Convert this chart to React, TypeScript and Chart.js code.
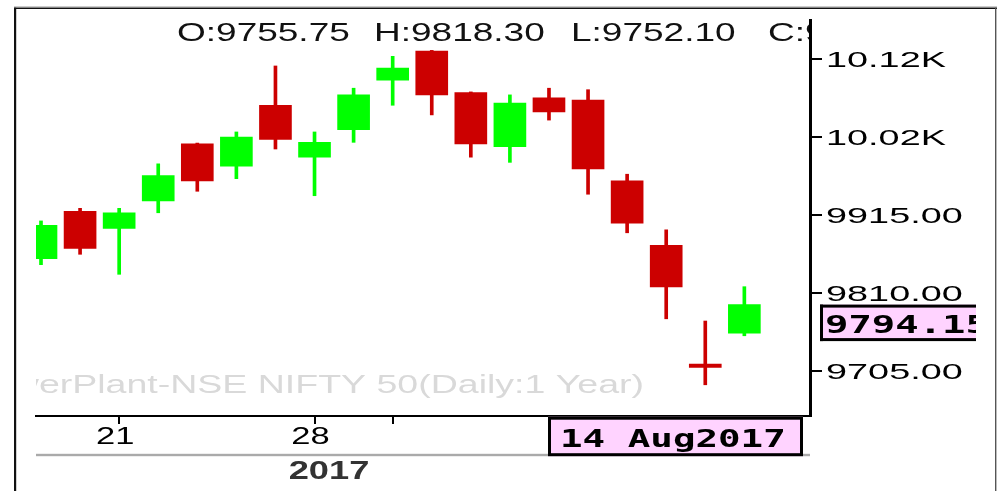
import React, { useEffect, useRef } from 'react';
import { Chart, registerables } from 'chart.js';

Chart.register(...registerables);

// ---- data (NSE NIFTY 50, daily) ----
const dates = ['19 Jul', '20 Jul', '21 Jul', '24 Jul', '25 Jul', '26 Jul', '27 Jul', '28 Jul', '31 Jul', '1 Aug',
  '2 Aug', '3 Aug', '4 Aug', '7 Aug', '8 Aug', '9 Aug', '10 Aug', '11 Aug', '14 Aug'];
const opens = [9856, 9920, 9897, 9934, 10011, 9981, 10063, 9993, 10030, 10097,
  10136, 10080, 10007, 10073, 10070, 9961, 9874, 9714, 9755.75];
const highs = [9907, 9924, 9924, 9984, 10012, 10027, 10116, 10027, 10086, 10129,
  10137, 10081, 10077, 10086, 10084, 9970, 9895, 9772, 9818.3];
const lows = [9848, 9862, 9835, 9918, 9947, 9964, 10004, 9941, 10013, 10063,
  10050, 9993, 9986, 10043, 9943, 9891, 9775, 9686, 9752.1];
const closes = [9901, 9870, 9918, 9968, 9961, 10020, 10017, 10013, 10077, 10113,
  10077, 10011, 10066, 10054, 9977, 9904, 9818, 9709.5, 9794.15];

const yTickValues = [9705, 9810, 9915, 10020, 10125];
const yTickLabels = ['9705.00', '9810.00', '9915.00', '10.02K', '10.12K'];
const xTickIndex = [2, 7, 9];
const xTickLabels = ['21', '28', ''];
const yearLabel = '2017';
const watermark = 'PowerPlant-NSE NIFTY 50(Daily:1 Year)';
const lastDateLabel = '14 Aug2017';
const ohlcNames = ['O', 'H', 'L', 'C'];

const GREEN = '#00FF00';
const RED = '#CC0000';
const PINK = '#FFD3FF';
const SANS = '"Liberation Sans", Arial, sans-serif';
const MONO = '"DejaVu Sans Mono", "Liberation Mono", monospace';

function stretchText(
  ctx: CanvasRenderingContext2D, text: string, x: number, y: number, size: number, sx: number,
  color: string, align: 'left' | 'center' | 'right' = 'left', weight = 'normal', family = SANS
) {
  ctx.save();
  ctx.font = `${weight} ${size}px ${family}`;
  ctx.fillStyle = color;
  ctx.textBaseline = 'alphabetic';
  ctx.textAlign = 'left';
  const w = ctx.measureText(text).width * sx;
  const x0 = align === 'left' ? x : align === 'center' ? x - w / 2 : x - w;
  ctx.translate(x0, y);
  ctx.scale(sx, 1);
  ctx.fillText(text, 0, 0);
  ctx.restore();
}

const decorPlugin = {
  id: 'decor',
  beforeDatasetsDraw(chart: any) {
    const { ctx, chartArea } = chart;
    ctx.save();
    ctx.beginPath();
    ctx.rect(chartArea.left, chartArea.top, chartArea.right - chartArea.left, chartArea.bottom - chartArea.top);
    ctx.clip();
    stretchText(ctx, watermark, 644, 393, 25, 1.5, '#d9d9d9', 'right');
    ctx.restore();
  },
  afterDraw(chart: any) {
    const { ctx, chartArea } = chart;
    const ys = chart.scales.y;
    const xs = chart.scales.x;
    const n = closes.length - 1;

    // outer frame
    ctx.save();
    ctx.fillStyle = '#9a9a9a';
    ctx.fillRect(14, 6.5, 983, 1.2);
    ctx.fillStyle = '#111';
    ctx.fillRect(14, 7.7, 983, 1.3);
    ctx.fillRect(14, 7.7, 2.2, 484);
    ctx.fillStyle = '#555';
    ctx.fillRect(995, 7.7, 1.4, 484);
    ctx.restore();

    // OHLC header (clipped to plot area)
    ctx.save();
    ctx.beginPath();
    ctx.rect(chartArea.left, 0, chartArea.right - chartArea.left - 1, chartArea.bottom);
    ctx.clip();
    const vals = [opens[n], highs[n], lows[n], closes[n]];
    vals.forEach((v, i) => {
      stretchText(ctx, `${ohlcNames[i]}:${v.toFixed(2)}`, 177 + i * 197, 41, 25, 1.48, '#111');
    });
    ctx.restore();

    // y tick labels
    ys.ticks.forEach((t: any) => {
      const idx = yTickValues.indexOf(t.value);
      if (idx < 0) return;
      const py = ys.getPixelForValue(t.value);
      stretchText(ctx, yTickLabels[idx], 826, py + 8, 22, 1.72, '#000');
    });

    // x tick labels
    xs.ticks.forEach((t: any) => {
      const idx = xTickIndex.indexOf(t.value);
      if (idx < 0 || !xTickLabels[idx]) return;
      const px = xs.getPixelForValue(t.value);
      stretchText(ctx, xTickLabels[idx], px - 4, 443.5, 23, 1.5, '#000', 'center');
    });

    // grey separator + year
    ctx.fillStyle = '#aaaaaa';
    ctx.fillRect(chartArea.left, 453.8, chartArea.right - chartArea.left, 2.4);
    stretchText(ctx, yearLabel, 329, 478.5, 25, 1.45, '#333', 'center', 'bold');

    // date label box
    ctx.save();
    ctx.fillStyle = PINK;
    ctx.fillRect(548, 416.7, 255, 39.5);
    ctx.strokeStyle = '#000';
    ctx.lineWidth = 3;
    ctx.strokeRect(549.5, 418.2, 252, 36.5);
    ctx.restore();
    stretchText(ctx, lastDateLabel, 560, 446.5, 25, 1.5, '#000', 'left', 'bold', MONO);

    // last price box
    const top = ys.getPixelForValue(closes[n]);
    ctx.save();
    ctx.beginPath();
    ctx.rect(0, 0, 976, 491);
    ctx.clip();
    ctx.fillStyle = PINK;
    ctx.fillRect(820, top, 170, 36);
    ctx.fillStyle = '#000';
    ctx.fillRect(820, top, 170, 3);
    ctx.fillRect(820, top + 33.5, 170, 3);
    ctx.fillRect(820, top, 3, 36.5);
    stretchText(ctx, closes[n].toFixed(2), 825, top + 28, 24, 1.62, '#000', 'left', 'bold', MONO);
    ctx.restore();
  },
};

export default function App() {
  const ref = useRef<HTMLCanvasElement>(null);

  useEffect(() => {
    if (!ref.current) return;
    const colors = closes.map((c, i) => (c >= opens[i] ? GREEN : RED));
    const chart = new Chart(ref.current, {
      type: 'bar',
      data: {
        datasets: [
          {
            label: 'body',
            data: dates.map((_, i) => ({ x: i, y: [opens[i], closes[i]] })) as any,
            backgroundColor: colors,
            borderWidth: 0,
            barThickness: 32,
            grouped: false,
            clip: 0,
            minBarLength: 3,
          } as any,
          {
            label: 'wick',
            data: dates.map((_, i) => ({ x: i, y: [lows[i], highs[i]] })) as any,
            backgroundColor: colors,
            borderWidth: 0,
            barThickness: 3,
            grouped: false,
            clip: 0,
          } as any,
        ],
      },
      options: {
        animation: false,
        responsive: false,
        devicePixelRatio: 1,
        events: [],
        layout: { padding: { left: 36, top: 20, right: 0, bottom: 0 } },
        plugins: { legend: { display: false }, tooltip: { enabled: false }, title: { display: false } },
        scales: {
          x: {
            type: 'linear',
            position: 'bottom',
            min: -0.128,
            max: 19.68,
            offset: false,
            afterBuildTicks: (s: any) => { s.ticks = xTickIndex.map((v) => ({ value: v })); },
            afterFit: (s: any) => { s.height = 75; },
            ticks: { display: false },
            grid: { offset: false, drawOnChartArea: false, drawTicks: true, tickLength: 8, color: '#000', lineWidth: 2 },
            border: { display: true, color: '#000', width: 2 },
          },
          y: {
            type: 'linear',
            position: 'right',
            min: 9643.9,
            max: 10178,
            afterBuildTicks: (s: any) => { s.ticks = yTickValues.map((v) => ({ value: v })); },
            afterFit: (s: any) => { s.width = 189; },
            ticks: { display: false },
            grid: { offset: false, drawOnChartArea: false, drawTicks: true, tickLength: 12, color: '#000', lineWidth: 2 },
            border: { display: true, color: '#000', width: 3 },
          },
        },
      } as any,
      plugins: [decorPlugin],
    });
    return () => chart.destroy();
  }, []);

  return (
    <div style={{ position: 'fixed', left: 0, top: 0, width: 999, height: 491, background: '#fff' }}>
      <canvas ref={ref} width={999} height={491} style={{ display: 'block', width: 999, height: 491 }} />
    </div>
  );
}
